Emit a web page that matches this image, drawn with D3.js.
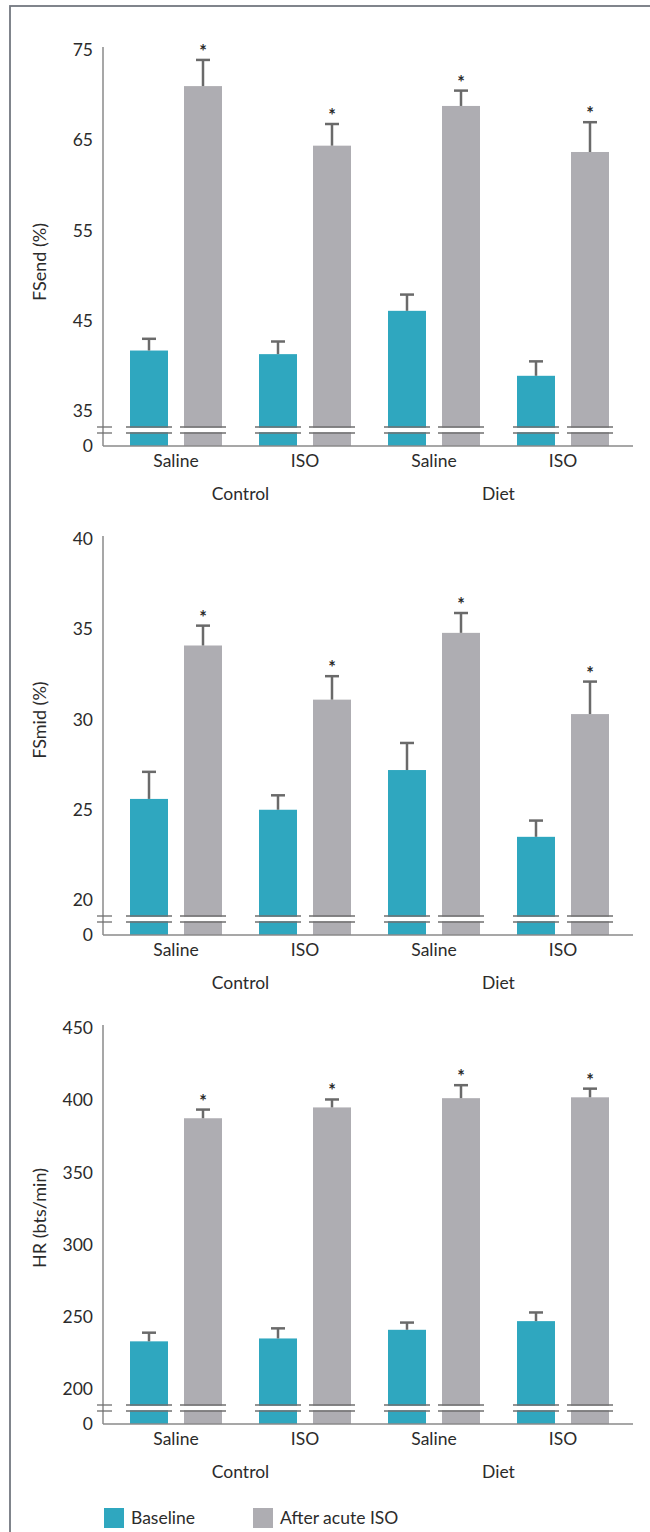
<!DOCTYPE html>
<html>
<head>
<meta charset="utf-8">
<script src="https://cdn.jsdelivr.net/npm/d3@7"></script>
<style>
  html, body { margin: 0; padding: 0; background: #fff; }
  svg { display: block; font-family: Lato, "Open Sans", sans-serif; }
</style>
</head>
<body>
<svg id="chart" width="650" height="1532"></svg>
<script>
// Groups along the x axis
const conditions = ["Control", "Diet"];
const treatments = ["Saline", "ISO", "Saline", "ISO"];
const series = ["Baseline", "After acute ISO"];

// FSend (%)
const fsendTicks = [35, 45, 55, 65, 75];
const fsendBaseline = [41.7, 41.3, 46.1, 38.9];
const fsendBaselineErr = [1.3, 1.4, 1.8, 1.6];
const fsendIso = [71.0, 64.4, 68.8, 63.7];
const fsendIsoErr = [2.9, 2.4, 1.7, 3.3];

// FSmid (%)
const fsmidTicks = [20, 25, 30, 35, 40];
const fsmidBaseline = [25.6, 25.0, 27.2, 23.5];
const fsmidBaselineErr = [1.5, 0.8, 1.5, 0.9];
const fsmidIso = [34.1, 31.1, 34.8, 30.3];
const fsmidIsoErr = [1.1, 1.3, 1.1, 1.8];

// HR (bts/min)
const hrTicks = [200, 250, 300, 350, 400, 450];
const hrBaseline = [233, 235, 241, 247];
const hrBaselineErr = [6, 7, 5, 6];
const hrIso = [387.5, 395, 401.4, 402];
const hrIsoErr = [6, 5.5, 9, 6];

const panels = [
  { title: "FSend (%)", ticks: fsendTicks, values: [fsendBaseline, fsendIso], errs: [fsendBaselineErr, fsendIsoErr] },
  { title: "FSmid (%)", ticks: fsmidTicks, values: [fsmidBaseline, fsmidIso], errs: [fsmidBaselineErr, fsmidIsoErr] },
  { title: "HR (bts/min)", ticks: hrTicks, values: [hrBaseline, hrIso], errs: [hrBaselineErr, hrIsoErr] }
];

// Layout
const panelTops = [50, 539, 1028];
const titleCenters = [262, 720, 1218];
const plotSpan = 361;      // from top tick to lowest tick
const axisX = 103;
const axisRight = 633;
const colors = { "Baseline": "#2fa7bf", "After acute ISO": "#aeadb2" };
const textColor = "#2b2b2b";
const errColor = "#6a6a6a";
const lineColor = "#8a8a8a";
const fontSize = 17.5;

const svg = d3.select("#chart");

// Frame around the figure
svg.append("rect")
  .attr("x", 10).attr("y", 6)
  .attr("width", 700).attr("height", 1600)
  .attr("fill", "none").attr("stroke", "#737880").attr("stroke-width", 1.8);

const x0 = d3.scalePoint().domain(d3.range(treatments.length)).range([176, 563]);
const x1 = d3.scaleBand().domain(series).range([-46, 46]).paddingInner(16 / 54).paddingOuter(0);

panels.forEach((p, pi) => {
  const top = panelTops[pi];
  const lowPx = top + plotSpan;
  const brk1 = top + 377;
  const brk2 = top + 383;
  const base = top + 396;
  const y = d3.scaleLinear().domain([d3.min(p.ticks), d3.max(p.ticks)]).range([lowPx, top]);

  const g = svg.append("g");

  // bars
  series.forEach((s, si) => {
    const vals = p.values[si];
    const errs = p.errs[si];
    const bg = g.append("g");
    bg.selectAll("rect.bar").data(vals).join("rect")
      .attr("class", "bar")
      .attr("x", (d, i) => x0(i) + x1(s))
      .attr("y", d => y(d))
      .attr("width", x1.bandwidth())
      .attr("height", d => base - y(d))
      .attr("fill", colors[s]);

    // break gap across each bar
    bg.selectAll("rect.gap").data(vals).join("rect")
      .attr("class", "gap")
      .attr("x", (d, i) => x0(i) + x1(s) - 4)
      .attr("y", brk1 + 0.75)
      .attr("width", x1.bandwidth() + 8)
      .attr("height", brk2 - brk1 - 1.5)
      .attr("fill", "#fff");
    [brk1, brk2].forEach(by => {
      bg.selectAll(null).data(vals).join("line")
        .attr("x1", (d, i) => x0(i) + x1(s) - 4)
        .attr("x2", (d, i) => x0(i) + x1(s) + x1.bandwidth() + 4)
        .attr("y1", by).attr("y2", by)
        .attr("stroke", "#6f6f6f").attr("stroke-width", 1.3);
    });

    // error bars
    const cx = i => x0(i) + x1(s) + x1.bandwidth() / 2;
    bg.selectAll("line.err").data(vals).join("line")
      .attr("class", "err")
      .attr("x1", (d, i) => cx(i)).attr("x2", (d, i) => cx(i))
      .attr("y1", d => y(d)).attr("y2", (d, i) => y(d + errs[i]))
      .attr("stroke", errColor).attr("stroke-width", 2.5);
    bg.selectAll("line.cap").data(vals).join("line")
      .attr("class", "cap")
      .attr("x1", (d, i) => cx(i) - 7).attr("x2", (d, i) => cx(i) + 7)
      .attr("y1", (d, i) => y(d + errs[i])).attr("y2", (d, i) => y(d + errs[i]))
      .attr("stroke", errColor).attr("stroke-width", 2.5);

    // significance marks on the post-ISO bars
    if (si === 1) {
      bg.selectAll("text.sig").data(vals).join("text")
        .attr("class", "sig")
        .attr("x", (d, i) => cx(i))
        .attr("y", (d, i) => y(d + errs[i]) - 2)
        .attr("text-anchor", "middle")
        .attr("font-size", 18)
        .attr("font-weight", "bold")
        .attr("fill", "#2a2a2a")
        .text("*");
    }
  });

  // y axis labels
  const yAxis = d3.axisLeft(y).tickValues(p.ticks).tickSize(0).tickPadding(10);
  const ag = g.append("g").attr("transform", `translate(${axisX},0)`).call(yAxis);
  ag.select(".domain").remove();
  ag.selectAll("text").attr("font-size", fontSize).attr("fill", textColor).attr("font-family", "Lato, sans-serif");

  // "0" at the baseline
  g.append("text")
    .attr("x", axisX - 10).attr("y", base).attr("dy", "0.32em")
    .attr("text-anchor", "end").attr("font-size", fontSize).attr("fill", textColor)
    .text("0");

  // axis lines
  g.append("line")
    .attr("x1", axisX).attr("x2", axisX).attr("y1", top - 3).attr("y2", base)
    .attr("stroke", lineColor).attr("stroke-width", 1.5);
  g.append("line")
    .attr("x1", axisX).attr("x2", axisRight).attr("y1", base).attr("y2", base)
    .attr("stroke", lineColor).attr("stroke-width", 1.5);

  // axis break marks
  [brk1, brk2].forEach(by => {
    g.append("line")
      .attr("x1", axisX - 6).attr("x2", axisX + 9).attr("y1", by).attr("y2", by)
      .attr("stroke", "#6f6f6f").attr("stroke-width", 1.3);
  });

  // treatment labels
  g.selectAll("text.treat").data(treatments).join("text")
    .attr("class", "treat")
    .attr("x", (d, i) => x0(i)).attr("y", base + 15).attr("dy", "0.35em")
    .attr("text-anchor", "middle").attr("font-size", fontSize).attr("fill", textColor)
    .text(d => d);

  // condition labels
  g.selectAll("text.cond").data(conditions).join("text")
    .attr("class", "cond")
    .attr("x", (d, i) => (x0(i * 2) + x0(i * 2 + 1)) / 2).attr("y", base + 48).attr("dy", "0.35em")
    .attr("text-anchor", "middle").attr("font-size", fontSize).attr("fill", textColor)
    .text(d => d);

  // y axis title
  g.append("text")
    .attr("transform", `translate(40,${titleCenters[pi]}) rotate(-90)`)
    .attr("text-anchor", "middle").attr("dy", "0.35em")
    .attr("font-size", 18).attr("fill", textColor)
    .text(p.title);
});

// legend
const legendX = [104, 253];
const lg = svg.append("g");
series.forEach((s, i) => {
  lg.append("rect")
    .attr("x", legendX[i]).attr("y", 1508).attr("width", 20).attr("height", 20)
    .attr("fill", colors[s]);
  lg.append("text")
    .attr("x", legendX[i] + 27).attr("y", 1518).attr("dy", "0.35em")
    .attr("font-size", fontSize).attr("fill", textColor)
    .text(s);
});
</script>
</body>
</html>
